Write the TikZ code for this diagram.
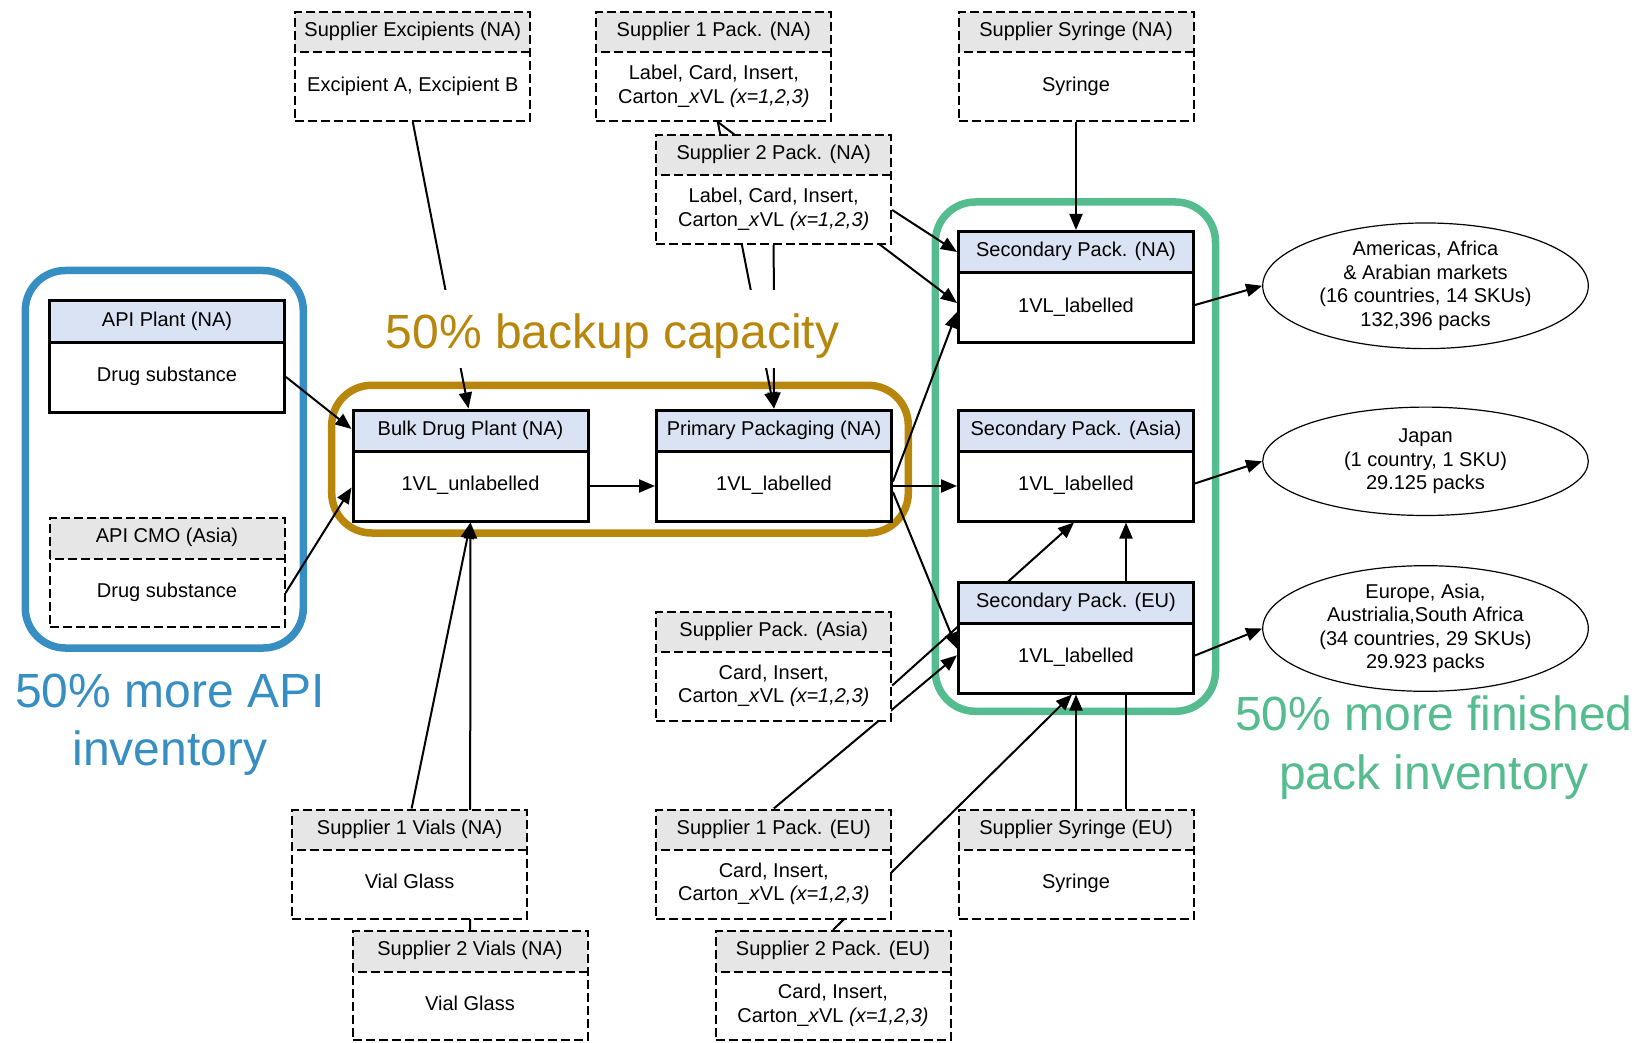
\documentclass[tikz,border=0pt]{standalone}
\usepackage{fontspec}
\setmainfont{Liberation Sans}
\usepackage{xcolor}
\usetikzlibrary{shapes.multipart,shapes.geometric,arrows.meta}
\definecolor{apiblue}{RGB}{54,142,195}
\definecolor{backupgold}{RGB}{184,134,11}
\definecolor{packgreen}{RGB}{84,188,142}
\definecolor{headblue}{RGB}{218,227,243}
\definecolor{headgray}{RGB}{230,230,230}

\pgfdeclarelayer{frames}
\pgfdeclarelayer{links}
\pgfsetlayers{frames,links,main}

\newcommand{\boxhead}[1]{\parbox[c][19.25pt][c]{117.5pt}{\centering\strut#1\strut}}
\newcommand{\boxbody}[1]{\parbox[c][33.25pt][c]{117.5pt}{\centering\strut#1\strut}}
\newcommand{\cartonx}{Carton\_\textit{x}VL \textit{(x=1,2,3)}}

\begin{document}
\begin{tikzpicture}[x=0.5pt,y=-0.5pt,
    font=\fontsize{10}{11.7}\selectfont,
    plant/.style={rectangle split, rectangle split parts=2, draw, line width=1.5pt,
      rectangle split part fill={headblue,white}, inner sep=0pt, anchor=north},
    supplier/.style={rectangle split, rectangle split parts=2, draw, line width=1pt,
      dash pattern=on 4.5pt off 2pt, rectangle split part fill={headgray,white},
      inner sep=0pt, anchor=north},
    market/.style={ellipse, draw, line width=0.6pt, minimum width=162.8pt,
      minimum height=54.2pt, inner sep=0pt, align=center},
    flow/.style={line width=1pt, -{Triangle[length=8pt,width=6.5pt]}},
    frame/.style={line width=3.75pt, rounded corners=20pt},
    bigtext/.style={font=\fontsize{24}{29.2}\selectfont, align=center, inner sep=0pt}]
    \useasboundingbox (0,0) rectangle (1639,1043);

    % Zulieferer oben
    \node[supplier] (excip) at (412.8,11) {\boxhead{Supplier Excipients (NA)}\nodepart{two}\boxbody{Excipient A, Excipient B}};
    \node[supplier] (s1PNA) at (713.8,11) {\boxhead{Supplier 1 Pack. (NA)}\nodepart{two}\boxbody{Label, Card, Insert,\\\cartonx}};
    \node[supplier] (syrNA) at (1076,11) {\boxhead{Supplier Syringe (NA)}\nodepart{two}\boxbody{Syringe}};
    \node[supplier] (s2PNA) at (773.7,134) {\boxhead{Supplier 2 Pack. (NA)}\nodepart{two}\boxbody{Label, Card, Insert,\\\cartonx}};

    % Wirkstoff (API)
    \node[plant] (apiNA) at (167,299.5) {\boxhead{API Plant (NA)}\nodepart{two}\boxbody{Drug substance}};
    \node[supplier] (apiCMO) at (167,517) {\boxhead{API CMO (Asia)}\nodepart{two}\boxbody{Drug substance}};

    % Herstellung und Primaerverpackung
    \node[plant] (bulk) at (470.5,408.5) {\boxhead{Bulk Drug Plant (NA)}\nodepart{two}\boxbody{1VL\_unlabelled}};
    \node[plant] (primary) at (774,408.5) {\boxhead{Primary Packaging (NA)}\nodepart{two}\boxbody{1VL\_labelled}};

    % Sekundaerverpackung
    \node[plant] (secNA) at (1076,230) {\boxhead{Secondary Pack. (NA)}\nodepart{two}\boxbody{1VL\_labelled}};
    \node[plant] (secAsia) at (1076,408.5) {\boxhead{Secondary Pack. (Asia)}\nodepart{two}\boxbody{1VL\_labelled}};
    \node[plant] (secEU) at (1076,580.5) {\boxhead{Secondary Pack. (EU)}\nodepart{two}\boxbody{1VL\_labelled}};

    % Zulieferer unten
    \node[supplier] (supAsia) at (773.7,610.5) {\boxhead{Supplier Pack. (Asia)}\nodepart{two}\boxbody{Card, Insert,\\\cartonx}};
    \node[supplier] (s1V) at (409.6,808.5) {\boxhead{Supplier 1 Vials (NA)}\nodepart{two}\boxbody{Vial Glass}};
    \node[supplier] (s2V) at (470,930) {\boxhead{Supplier 2 Vials (NA)}\nodepart{two}\boxbody{Vial Glass}};
    \node[supplier] (s1PEU) at (773.8,808.5) {\boxhead{Supplier 1 Pack. (EU)}\nodepart{two}\boxbody{Card, Insert,\\\cartonx}};
    \node[supplier] (s2PEU) at (833,930) {\boxhead{Supplier 2 Pack. (EU)}\nodepart{two}\boxbody{Card, Insert,\\\cartonx}};
    \node[supplier] (syrEU) at (1076,808.5) {\boxhead{Supplier Syringe (EU)}\nodepart{two}\boxbody{Syringe}};

    % Maerkte
    \node[market] (amer) at (1425.5,285.8) {Americas, Africa\\\& Arabian markets\\(16 countries, 14 SKUs)\\132,396 packs};
    \node[market] (japan) at (1425.5,461.3) {Japan\\(1 country, 1 SKU)\\29.125 packs};
    \node[market] (europe) at (1425.5,628.5) {Europe, Asia,\\Austrialia,South Africa\\(34 countries, 29 SKUs)\\29.923 packs};

    % Beschriftungen der Bereiche
    \node[bigtext, text=backupgold, fill=white, anchor=base, inner xsep=2pt,
      text height=29.2pt, text depth=9.8pt] (backuplbl) at (612.5,348.3) {50\% backup capacity};
    \node[bigtext, text=apiblue] (apilbl) at (170,725) {50\% more API\\inventory};
    \node[bigtext, text=packgreen] (packlbl) at (1434,747.5) {50\% more finished\\pack inventory};

    % Farbige Rahmen
    \begin{pgfonlayer}{frames}
    \draw[frame, apiblue] (25.3,270.5) rectangle (303.3,648);
    \draw[frame, backupgold] (331.7,385.3) rectangle (908.3,533);
    \draw[frame, packgreen] (935.3,202) rectangle (1215.5,711.3);
    \end{pgfonlayer}

    % Materialfluss
    \begin{pgfonlayer}{links}
    \draw[flow] ([yshift=-10.25pt]apiNA.east) -- ([yshift=18.25pt]bulk.west);
    \draw[flow] ([yshift=-10.25pt]apiCMO.east) -- ([yshift=-11pt]bulk.west);
    \draw[flow] (excip.south) -- ([xshift=-1pt]bulk.north);
    \draw[flow] ([xshift=1pt]s1V.north) -- (bulk.south);
    \draw[flow] (s2V.north) -- (bulk.south);
    \draw[flow] ([yshift=-10.25pt]bulk.east) -- ([yshift=-10.25pt]primary.west);
    \draw[flow] ([xshift=2pt]s1PNA.south) -- (primary.north);
    \draw[flow] (s2PNA.south) -- (primary.north);
    \draw[flow] ([xshift=2pt]s1PNA.south) -- ([yshift=-8pt]secNA.west);
    \draw[flow] ([yshift=-10.25pt]s2PNA.east) -- ([yshift=17.5pt]secNA.west);
    \draw[flow] (syrNA.south) -- (secNA.north);
    \draw[flow] ([yshift=-8pt]primary.east) -- ([yshift=-12.5pt]secNA.west);
    \draw[flow] ([yshift=-10.25pt]primary.east) -- ([yshift=-10.25pt]secAsia.west);
    \draw[flow] ([yshift=-13.25pt]primary.east) -- ([yshift=-5.6pt]secEU.west);
    \draw[flow] ([yshift=-9.75pt]supAsia.east) -- ([xshift=-1pt]secAsia.south);
    \draw[flow] (s1PEU.north) -- ([yshift=-8.9pt]secEU.west);
    \draw[flow] (s2PEU.north) -- ([xshift=-2pt]secEU.south);
    \draw[flow] (syrEU.north) -- (secEU.south);
    \draw[flow] ([xshift=25pt]syrEU.north) -- ([xshift=25pt]secAsia.south);
    \draw[flow] ([yshift=-9pt]secNA.east) -- (amer.west);
    \draw[flow] ([yshift=-9pt]secAsia.east) -- (japan.west);
    \draw[flow] ([yshift=-9pt]secEU.east) -- (europe.west);
    \end{pgfonlayer}

\end{tikzpicture}
\end{document}
